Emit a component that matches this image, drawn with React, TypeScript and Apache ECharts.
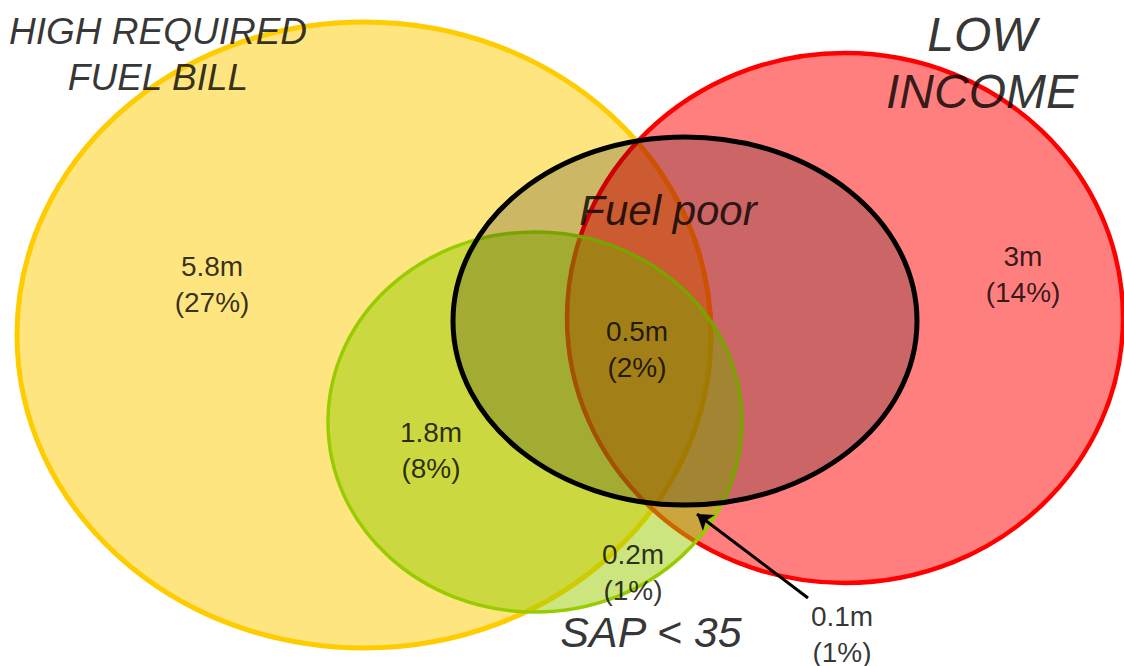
import React, { useEffect, useRef } from "react";
import * as echarts from "echarts";

// Sets (ellipses) in page-pixel data units
const setNames = ["HIGH REQUIRED FUEL BILL", "LOW INCOME", "SAP < 35", "Fuel poor"];
const setCenterX = [364, 845, 535, 685];
const setCenterY = [335, 318, 422, 321];
const setRadiusX = [347, 278, 207, 232];
const setRadiusY = [313, 265, 190, 184];
const setFill = ["rgba(255,204,0,0.5)", "rgba(255,0,0,0.5)", "rgba(153,204,0,0.5)", "rgba(0,0,0,0.2)"];
const setStroke = ["#FFCC00", "#FF0000", "#99CC00", "#000000"];
const setStrokeWidth = [5, 4.5, 3.5, 5];
// draw order: yellow, red, green, black
const drawOrder = [0, 1, 2, 3];

// Set titles
const titleTexts = ["HIGH REQUIRED\nFUEL BILL", "LOW\nINCOME", "SAP < 35", "Fuel poor"];
const titleX = [158, 982, 651, 668];
const titleY = [54, 63, 632, 210];
const titleSize = [37, 48, 43, 42];
const titleLineHeight = [46, 57, 46, 46];

// Region values
const regionValues = ["5.8m", "3m", "1.8m", "0.5m", "0.2m", "0.1m"];
const regionShares = ["27%", "14%", "8%", "2%", "1%", "1%"];
const regionX = [212, 1023, 431, 637, 633, 842];
const regionY = [284, 274, 450, 349, 572, 634];

// Arrow pointing at the 0.1m region
const arrowFrom = [808, 598];
const arrowTo = [697, 514];

export default function App() {
  const ref = useRef<HTMLDivElement>(null);
  useEffect(() => {
    if (!ref.current) return;
    const chart = echarts.init(ref.current, undefined, { renderer: "svg" });
    const ellipseData = drawOrder.map((i) => ({
      name: setNames[i],
      value: [setCenterX[i], setCenterY[i], setRadiusX[i], setRadiusY[i], i],
    }));
    chart.setOption({
      animation: false,
      backgroundColor: "#ffffff",
      grid: { left: 0, right: 0, top: 0, bottom: 0 },
      xAxis: { type: "value", min: 0, max: 1124, show: false },
      yAxis: { type: "value", min: 0, max: 666, inverse: true, show: false },
      series: [
        {
          type: "custom",
          coordinateSystem: "cartesian2d",
          clip: false,
          data: ellipseData,
          renderItem: (params: any, api: any) => {
            const c = api.coord([api.value(0), api.value(1)]);
            const s = api.size([api.value(2), api.value(3)]);
            const idx = api.value(4);
            return {
              type: "ellipse",
              shape: { cx: c[0], cy: c[1], rx: s[0], ry: s[1] },
              style: {
                fill: setFill[idx],
                stroke: setStroke[idx],
                lineWidth: setStrokeWidth[idx],
              },
            };
          },
        },
        {
          type: "lines",
          coordinateSystem: "cartesian2d",
          symbol: ["none", "arrow"],
          symbolSize: 15,
          lineStyle: { color: "#000", width: 3, opacity: 1 },
          data: [{ coords: [arrowFrom, arrowTo] }],
        },
        {
          type: "scatter",
          symbolSize: 1,
          itemStyle: { color: "transparent" },
          data: regionValues.map((v, i) => ({
            name: v,
            value: [regionX[i], regionY[i]],
          })),
          label: {
            show: true,
            position: "inside",
            color: "#000000",
            fontFamily: "Liberation Sans",
            fontSize: 28,
            lineHeight: 36,
            align: "center",
            formatter: (p: any) => `${regionValues[p.dataIndex]}\n(${regionShares[p.dataIndex]})`,
          },
        },
        {
          type: "scatter",
          symbolSize: 1,
          itemStyle: { color: "transparent" },
          data: titleTexts.map((t, i) => ({
            name: t,
            value: [titleX[i], titleY[i]],
            label: {
              fontSize: titleSize[i],
              lineHeight: titleLineHeight[i],
            },
          })),
          label: {
            show: true,
            position: "inside",
            color: "#000000",
            fontFamily: "Liberation Sans",
            fontStyle: "italic",
            align: "center",
            formatter: (p: any) => titleTexts[p.dataIndex],
          },
        },
      ],
    });
    return () => chart.dispose();
  }, []);
  return (
    <div
      ref={ref}
      style={{ position: "fixed", left: 0, top: 0, width: 1124, height: 666 }}
    />
  );
}
